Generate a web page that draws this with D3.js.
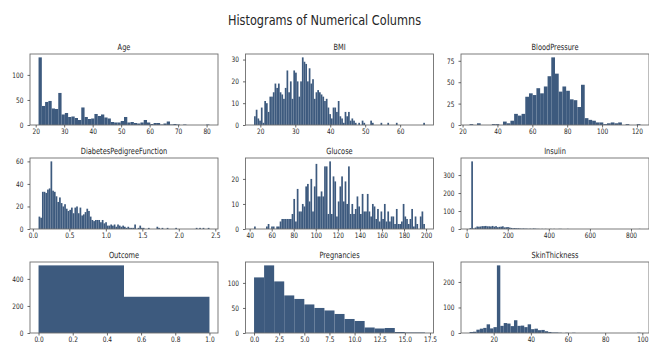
<!DOCTYPE html>
<html>
<head>
<meta charset="utf-8">
<script src="https://cdn.jsdelivr.net/npm/d3@7"></script>
<style>
  body { margin: 0; background: #fff; }
  svg { display: block; }
  text { font-family: "DejaVu Sans", sans-serif; fill: #262626; }
</style>
</head>
<body>
<svg id="chart" width="649" height="343"></svg>
<script>
// histogram counts, one array per column (equal-width bins over [min, max])
const ageRange = [21, 81];
const ageCounts = [135, 38, 46, 48, 33, 32, 64, 21, 24, 16, 17, 14, 10, 35, 16, 12, 13, 22, 18, 21,
  15, 13, 6, 5, 5, 8, 16, 5, 6, 4, 3, 5, 10, 5, 2, 4, 4, 1, 3, 7, 1, 2, 1, 0, 1, 0, 0, 0, 0, 0, 0, 1];

const bmiRange = [18.2, 67.1];
const bmiCounts = [4, 7, 3, 2, 8, 1, 11, 10, 6, 13, 13, 15, 19, 17, 19, 15, 14, 12, 17, 25,
  15, 20, 12, 25, 24, 20, 13, 20, 31, 29, 28, 20, 26, 19, 21, 12, 15, 16, 15, 14,
  13, 11, 12, 8, 5, 3, 8, 8, 6, 11, 4, 3, 1, 6, 4, 6, 2, 3, 2, 1,
  0, 1, 0, 2, 1, 0, 0, 0, 2, 1, 0, 0, 0, 0, 1, 0, 0, 0, 1, 0,
  0, 0, 0, 1, 0, 0, 0, 0, 0, 0, 0, 0, 0, 0, 0, 0, 0, 0, 0, 1];

const bpRange = [24, 122];
const bpCounts = [1, 0, 2, 0, 0, 0, 1, 1, 0, 4, 2, 5, 13, 11, 13, 33, 37, 35, 43, 37,
  45, 57, 79, 60, 39, 45, 40, 30, 29, 21, 47, 8, 6, 5, 3, 3, 1, 2, 3, 2, 3, 0, 1, 0, 0, 1];

const dpfRange = [0.078, 2.42];
const dpfCounts = [11, 10, 33, 33, 32, 35, 36, 60, 34, 33, 29, 24, 28, 23, 20, 22, 18, 16, 17, 19,
  14, 19, 20, 14, 19, 12, 13, 15, 18, 16, 11, 8, 7, 8, 8, 8, 6, 8, 5, 6,
  3, 3, 4, 3, 4, 2, 4, 3, 2, 3, 2, 1, 2, 1, 1, 1, 4, 0, 1, 3,
  1, 1, 0, 0, 1, 0, 0, 0, 0, 2, 1, 0, 1, 0, 0, 1, 0, 0, 0, 0,
  1, 0, 0, 0, 0, 0, 0, 0, 0, 0, 0, 0, 1, 0, 1, 0, 1, 0, 0, 1];

const glucoseRange = [44, 199];
const glucoseCounts = [1, 0, 0, 0, 0, 0, 0, 1, 2, 0, 1, 1, 0, 1, 1, 3, 4, 4, 4, 4,
  4, 4, 6, 12, 3, 16, 7, 7, 10, 9, 17, 18, 11, 20, 7, 17, 26, 13, 13, 15,
  13, 25, 25, 6, 27, 6, 21, 19, 5, 11, 17, 21, 11, 19, 10, 25, 6, 10, 6, 8,
  13, 9, 6, 14, 7, 7, 14, 7, 5, 10, 9, 4, 8, 3, 7, 4, 10, 3, 7, 3,
  5, 5, 2, 8, 2, 2, 3, 10, 5, 4, 2, 4, 8, 1, 5, 2, 0, 5, 7, 2];

const insulinRange = [14, 846];
const insulinCounts = [5, 376, 3, 8, 14, 13, 14, 16, 16, 17, 15, 15, 14, 17, 13, 16, 10, 12, 13, 15,
  9, 10, 11, 8, 6, 4, 5, 4, 4, 3, 2, 3, 2, 2, 1, 2, 1, 3, 2, 1,
  1, 0, 1, 0, 1, 0, 0, 1, 0, 1, 0, 0, 1, 1, 0, 0, 0, 1, 0, 0,
  0, 0, 0, 0, 0, 0, 0, 0, 0, 0, 0, 0, 0, 0, 0, 0, 0, 0, 0, 0,
  0, 0, 0, 0, 0, 0, 0, 0, 0, 0, 0, 0, 0, 0, 0, 0, 0, 0, 0, 1];

const outcomeRange = [0, 1];
const outcomeCounts = [500, 268];

const pregRange = [0, 17];
const pregCounts = [111, 135, 103, 75, 68, 57, 50, 45, 38, 28, 24, 11, 9, 10, 2, 1, 1];

const skinRange = [7, 99];
const skinCounts = [4, 5, 13, 17, 20, 34, 18, 23, 265, 28, 39, 37, 27, 50, 28, 29, 23, 34, 15, 17,
  11, 12, 7, 4, 2, 2, 1, 0, 1, 0, 1, 0, 0, 0, 0, 0, 0, 0, 0, 0,
  0, 0, 0, 0, 0, 0, 0, 0, 0, 1];

// tick values
const ageXTicks = [20, 30, 40, 50, 60, 70, 80], ageYTicks = [0, 50, 100];
const bmiXTicks = [20, 30, 40, 50, 60], bmiYTicks = [0, 10, 20, 30];
const bpXTicks = [20, 40, 60, 80, 100, 120], bpYTicks = [0, 25, 50, 75];
const dpfXTicks = [0, 0.5, 1, 1.5, 2, 2.5], dpfYTicks = [0, 20, 40, 60];
const glucoseXTicks = [40, 60, 80, 100, 120, 140, 160, 180, 200], glucoseYTicks = [0, 10, 20];
const insulinXTicks = [0, 200, 400, 600, 800], insulinYTicks = [0, 100, 200, 300];
const outcomeXTicks = [0, 0.2, 0.4, 0.6, 0.8, 1], outcomeYTicks = [0, 200, 400];
const pregXTicks = [0, 2.5, 5, 7.5, 10, 12.5, 15, 17.5], pregYTicks = [0, 50, 100];
const skinXTicks = [20, 40, 60, 80, 100], skinYTicks = [0, 100, 200];

const panels = [
  { title: 'Age', range: ageRange, counts: ageCounts, xt: ageXTicks, yt: ageYTicks, fx: 'd' },
  { title: 'BMI', range: bmiRange, counts: bmiCounts, xt: bmiXTicks, yt: bmiYTicks, fx: 'd' },
  { title: 'BloodPressure', range: bpRange, counts: bpCounts, xt: bpXTicks, yt: bpYTicks, fx: 'd' },
  { title: 'DiabetesPedigreeFunction', range: dpfRange, counts: dpfCounts, xt: dpfXTicks, yt: dpfYTicks, fx: '.1f' },
  { title: 'Glucose', range: glucoseRange, counts: glucoseCounts, xt: glucoseXTicks, yt: glucoseYTicks, fx: 'd' },
  { title: 'Insulin', range: insulinRange, counts: insulinCounts, xt: insulinXTicks, yt: insulinYTicks, fx: 'd' },
  { title: 'Outcome', range: outcomeRange, counts: outcomeCounts, xt: outcomeXTicks, yt: outcomeYTicks, fx: '.1f' },
  { title: 'Pregnancies', range: pregRange, counts: pregCounts, xt: pregXTicks, yt: pregYTicks, fx: '.1f' },
  { title: 'SkinThickness', range: skinRange, counts: skinCounts, xt: skinXTicks, yt: skinYTicks, fx: 'd' },
];

const colLeft = [30, 245.5, 461];
const rowTop = [54, 158, 262];
const pw = 188, ph = 71;
const squeeze = 0.78; // text in the picture is horizontally squashed
const barColor = '#3d5a7e';

const svg = d3.select('#chart');

svg.append('text')
  .attr('transform', `translate(324.5, 25) scale(${squeeze},1)`)
  .attr('text-anchor', 'middle')
  .style('font-size', '14.5px')
  .text('Histograms of Numerical Columns');

panels.forEach((p, k) => {
  const left = colLeft[k % 3];
  const top = rowTop[Math.floor(k / 3)];
  const [lo, hi] = p.range;
  const pad = (hi - lo) * 0.05;
  const step = (hi - lo) / p.counts.length;
  const maxC = d3.max(p.counts);

  const x = d3.scaleLinear().domain([lo - pad, hi + pad]).range([left, left + pw]);
  const y = d3.scaleLinear().domain([0, maxC * 1.05]).range([top + ph, top]);

  const g = svg.append('g');

  const bins = p.counts.map((c, i) => ({ x0: lo + i * step, x1: lo + (i + 1) * step, c }))
    .filter((b) => b.c > 0);

  g.selectAll('rect.bar')
    .data(bins)
    .join('rect')
    .attr('class', 'bar')
    .attr('x', (d) => x(d.x0))
    .attr('width', (d) => x(d.x1) - x(d.x0))
    .attr('y', (d) => y(d.c))
    .attr('height', (d) => y(0) - y(d.c))
    .attr('fill', barColor);

  // frame
  g.append('rect')
    .attr('x', left).attr('y', top)
    .attr('width', pw).attr('height', ph)
    .attr('fill', 'none')
    .attr('stroke', '#6e6e6e')
    .attr('stroke-width', 0.9);

  const xAxis = g.append('g')
    .attr('transform', `translate(0, ${top + ph})`)
    .call(d3.axisBottom(x).tickValues(p.xt).tickFormat(d3.format(p.fx)).tickSize(2.5).tickSizeOuter(0).tickPadding(1.5));

  const yAxis = g.append('g')
    .attr('transform', `translate(${left}, 0)`)
    .call(d3.axisLeft(y).tickValues(p.yt).tickFormat(d3.format('d')).tickSize(2.5).tickSizeOuter(0).tickPadding(6));

  [xAxis, yAxis].forEach((a) => {
    a.select('.domain').remove();
    a.selectAll('line').attr('stroke', '#444').attr('stroke-width', 0.8);
    a.selectAll('text')
      .style('font-size', '7.5px')
      .attr('fill', '#262626')
      .attr('transform', `scale(${squeeze},1)`);
  });

  g.append('text')
    .attr('transform', `translate(${left + pw / 2}, ${top - 4}) scale(${squeeze},1)`)
    .attr('text-anchor', 'middle')
    .style('font-size', '8.5px')
    .text(p.title);
});
</script>
</body>
</html>
